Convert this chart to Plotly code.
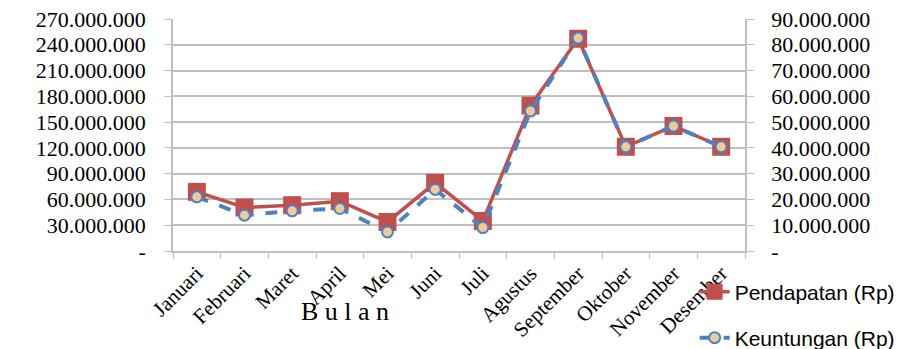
import plotly.graph_objects as go

bulan = ["Januari", "Februari", "Maret", "April", "Mei", "Juni", "Juli",
         "Agustus", "September", "Oktober", "November", "Desember"]
pendapatan = [68.8e6, 50.6e6, 53.3e6, 58.0e6, 33.8e6, 79.3e6, 35.0e6,
              169.2e6, 247.0e6, 121.3e6, 145.5e6, 121.3e6]
keuntungan = [21.0e6, 13.9e6, 15.6e6, 16.5e6, 7.4e6, 23.9e6, 9.1e6,
              54.3e6, 82.6e6, 40.4e6, 48.5e6, 40.4e6]

left_ticks = [0, 30e6, 60e6, 90e6, 120e6, 150e6, 180e6, 210e6, 240e6, 270e6]
left_text = ["-", "30.000.000", "60.000.000", "90.000.000", "120.000.000",
             "150.000.000", "180.000.000", "210.000.000", "240.000.000", "270.000.000"]
right_ticks = [0, 10e6, 20e6, 30e6, 40e6, 50e6, 60e6, 70e6, 80e6, 90e6]
right_text = ["-", "10.000.000", "20.000.000", "30.000.000", "40.000.000",
              "50.000.000", "60.000.000", "70.000.000", "80.000.000", "90.000.000"]
x_title = "B u l a n"

serif = "Liberation Serif"
sans = "Liberation Sans"
grid = "#BFBFBF"

fig = go.Figure()
fig.add_trace(go.Scatter(
    x=bulan, y=pendapatan, name="Pendapatan (Rp)", mode="lines+markers",
    line=dict(color="#C0504D", width=3.5),
    marker=dict(symbol="square", size=18, color="#C0504D"),
    yaxis="y", legend="legend", showlegend=True))
fig.add_trace(go.Scatter(
    x=bulan, y=keuntungan, name="Keuntungan (Rp)", mode="lines+markers",
    line=dict(color="#4F81BD", width=4, dash="dash"),
    marker=dict(symbol="circle", size=11, color="#F2C99A",
                line=dict(color="#4F81BD", width=2)),
    yaxis="y2", legend="legend2", showlegend=True))

fig.add_annotation(text=x_title, xref="paper", yref="paper", x=0.301, y=-0.259,
                   xanchor="center", yanchor="middle", showarrow=False,
                   font=dict(family=serif, size=26, color="black"))

fig.update_layout(
    width=910, height=349,
    margin=dict(l=173, r=165, t=19, b=98, autoexpand=False),
    paper_bgcolor="white", plot_bgcolor="white",
    showlegend=True,
    xaxis=dict(
        type="category", range=[-0.5, 11.5], tickangle=-45, tickson="boundaries",
        automargin=False, ticks="outside", ticklen=6, tickcolor=grid,
        showline=True, linecolor=grid, linewidth=1.5, showgrid=False,
        tickfont=dict(family=serif, size=21, color="black")),
    yaxis=dict(
        range=[0, 270e6], tickvals=left_ticks, ticktext=left_text, automargin=False,
        showgrid=True, gridcolor=grid, gridwidth=1.5,
        ticks="outside", ticklen=7, tickcolor=grid, ticklabelstandoff=14,
        showline=True, linecolor=grid, linewidth=1.5, zeroline=False,
        tickfont=dict(family=serif, size=22, color="black")),
    yaxis2=dict(
        range=[0, 90e6], tickvals=right_ticks, ticktext=right_text, automargin=False,
        overlaying="y", side="right", showgrid=False,
        ticks="outside", ticklen=7, tickcolor=grid, ticklabelstandoff=13,
        showline=True, linecolor=grid, linewidth=1.5, zeroline=False,
        tickfont=dict(family=serif, size=22, color="black")),
    legend=dict(x=0.912, y=-0.177, xanchor="left", yanchor="middle",
                bgcolor="rgba(0,0,0,0)", font=dict(family=sans, size=21, color="black")),
    legend2=dict(x=0.912, y=-0.375, xanchor="left", yanchor="middle",
                 bgcolor="rgba(0,0,0,0)", font=dict(family=sans, size=21, color="black")),
)

fig.write_html("out.html")
